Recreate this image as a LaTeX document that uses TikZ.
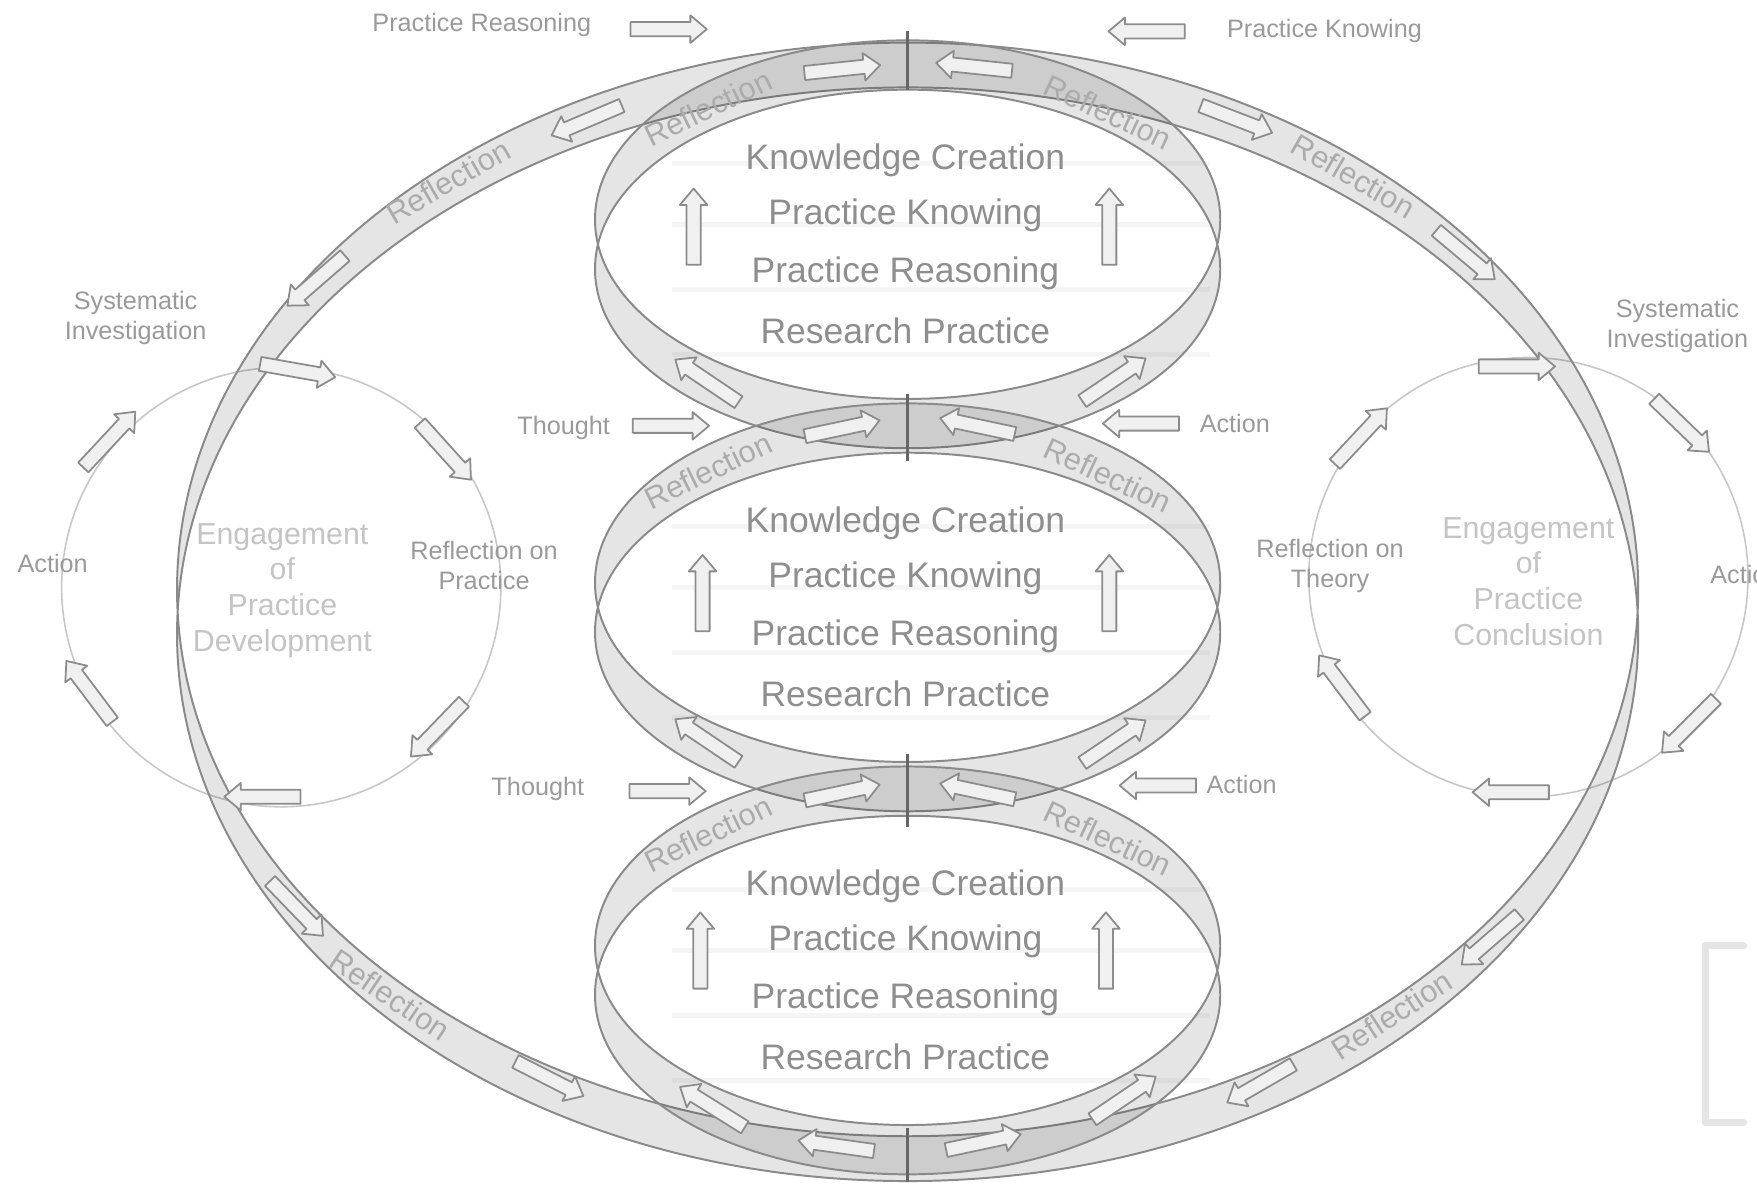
\documentclass[tikz,border=0pt]{standalone}
\usepackage{fontspec}
\setmainfont{Liberation Sans}
\usetikzlibrary{shapes.arrows}
\definecolor{ringink}{HTML}{8A8A8A}
\definecolor{labelink}{HTML}{9A9A9A}
\definecolor{ringtext}{HTML}{8E8E8E}
\definecolor{paleink}{HTML}{C4C4C4}
\definecolor{bandtext}{HTML}{ABABAB}
\definecolor{rowline}{HTML}{F5F5F5}

\begin{document}
\begin{tikzpicture}[x=0.01cm,y=-0.01cm,line join=round,
  band/.style={fill=black,fill opacity=.1,even odd rule},
  rim/.style={draw=ringink,line width=.5pt},
  barrow/.style={single arrow,draw=black!45,fill=black!6,line width=.45pt,
    minimum height=.68cm,minimum width=.23cm,inner sep=.055cm,
    single arrow head extend=.06cm,single arrow tip angle=80},
  lbl/.style={text=labelink,font=\fontsize{6.4}{7.6}\selectfont,align=center},
  rowtxt/.style={text=ringtext,font=\fontsize{9}{10.8}\selectfont},
  refl/.style={text=bandtext,font=\fontsize{7.8}{9}\selectfont},
  engage/.style={text=paleink,font=\fontsize{7.7}{9.1}\selectfont,align=center},
  tick/.style={draw=black!60,line width=.6pt}]
\path[use as bounding box] (0,0) rectangle (1568,1059);
\fill[white] (0,0) rectangle (1568,1059);
% faint rows behind the ring texts
\foreach \cy in {218,542,866}
  \foreach \dy in {-72,-18,40,98}
    \draw[rowline,line width=1.3pt] (600,\cy+\dy) -- (1080,\cy+\dy);
% the two engagement circles
\draw[black!22,line width=.4pt] (251,524) circle[radius=196];
\draw[black!22,line width=.4pt] (1364,515) circle[radius=196];
% big outer ribbon
\fill[band] (810,526) ellipse[x radius=652,y radius=488] (810,566) ellipse[x radius=652,y radius=488];
\draw[rim] (810,526) ellipse[x radius=652,y radius=488] (810,566) ellipse[x radius=652,y radius=488];
% three stacked ribbons
\foreach \cy in {218,542,866}{
  \fill[band] (810,\cy-22) ellipse[x radius=279,y radius=160] (810,\cy+22) ellipse[x radius=279,y radius=160];
  \draw[rim] (810,\cy-22) ellipse[x radius=279,y radius=160] (810,\cy+22) ellipse[x radius=279,y radius=160];
}
% joints
\draw[tick] (810,28) -- (810,80);
\draw[tick] (810,352) -- (810,411);
\draw[tick] (810,673) -- (810,738);
\draw[tick] (810,1007) -- (810,1055);
% block arrows
\foreach \x/\y/\a [count=\i] in {593/26/0,1027/28/180,
    748/62/6,873/60/174,527/106/203,285/248/221,1100/105/-21,1305/225/-40,
    262/808/-46,487/961/-27,1128/965/210,1333/836/221,750/1023/172,874/1020/12,
    619/206/90,990/206/90,634/342/146,991/341/34,748/383/12,876/381/168,
    595/380/0,1022/378/180,
    627/533/90,990/533/90,634/663/146,991/664/34,748/708/12,876/707/168,
    592/706/0,1037/701/180,
    625/852/90,987/852/90,639/990/148,1000/982/34,
    262/330/-10,395/400/-48,393/648/226,238/711/180,82/620/127,95/395/47,
    1350/327/0,1498/377/-44,1510/645/225,1352/707/180,1200/615/127,1212/392/47}
  \node[barrow,rotate=\a] (arr\i) at (\x,\y) {};
% labels outside the rings
\node[lbl] (prtop) at (430,22) {Practice Reasoning};
\node[lbl] (pktop) at (1182,28) {Practice Knowing};
\node[lbl] (sysL) at (121,284) {Systematic\\Investigation};
\node[lbl] (sysR) at (1497,291) {Systematic\\Investigation};
\node[lbl] (thoughtA) at (503,382) {Thought};
\node[lbl] (actionA) at (1102,378) {Action};
\node[lbl] (thoughtB) at (480,704) {Thought};
\node[lbl] (actionB) at (1108,700) {Action};
\node[lbl] (actL) at (47,503) {Action};
\node[lbl,anchor=west] (actR) at (1514,513) {Action};
\node[lbl] (ropL) at (432,505) {Reflection on\\Practice};
\node[lbl] (rotR) at (1187,505) {Reflection on\\Theory};
\node[engage] (engL) at (252,527) {Engagement\\of\\Practice\\Development};
\node[engage] (engR) at (1364,519) {Engagement\\of\\Practice\\Conclusion};
% texts inside the rings
\foreach \cy [count=\k] in {218,542,866}{
  \node[rowtxt] (kc\k) at (808,\cy-75) {Knowledge Creation};
  \node[rowtxt] (pk\k) at (808,\cy-26) {Practice Knowing};
  \node[rowtxt] (pr\k) at (808,\cy+26) {Practice Reasoning};
  \node[rowtxt] (rp\k) at (808,\cy+77) {Research Practice};
  \node[refl,rotate=26] (rfl\k) at (632,\cy-122) {Reflection};
  \node[refl,rotate=-25] (rfr\k) at (989,\cy-118) {Reflection};
}
% reflection on the big ribbon
\node[refl,rotate=30] (rbA) at (400,162) {Reflection};
\node[refl,rotate=-30] (rbB) at (1208,157) {Reflection};
\node[refl,rotate=-34] (rbC) at (348,888) {Reflection};
\node[refl,rotate=33] (rbD) at (1242,906) {Reflection};
% pale bracket
\draw[black!10,line width=1.8pt,line cap=round] (1556,844) -- (1522,844) -- (1522,1002) -- (1556,1002);
\end{tikzpicture}
\end{document}
